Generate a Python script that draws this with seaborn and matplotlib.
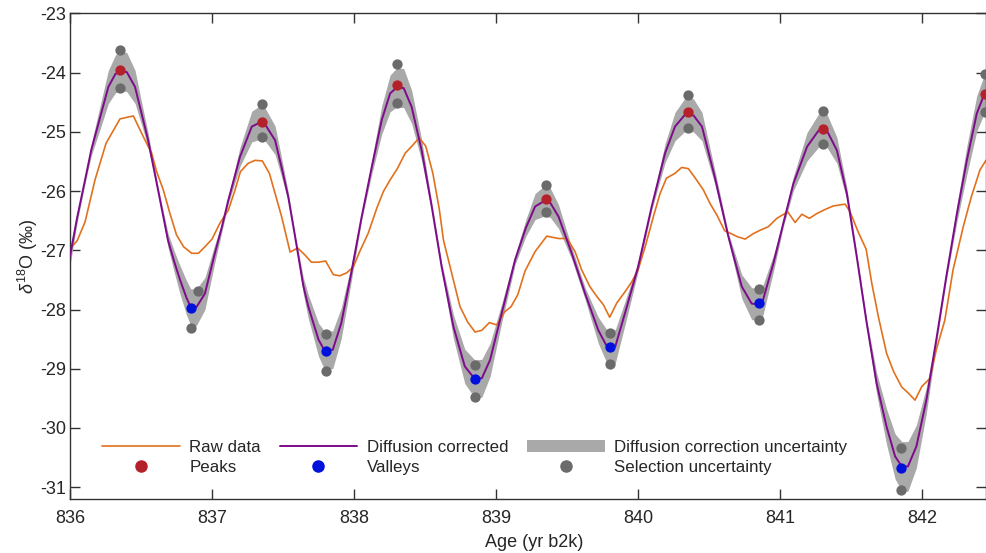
import matplotlib
matplotlib.use("Agg")
import matplotlib.pyplot as plt
import seaborn as sns
import pandas as pd
from matplotlib.lines import Line2D
from matplotlib.patches import Patch

# raw isotope record
raw_age = [836.000, 836.050, 836.106, 836.176, 836.254, 836.352, 836.446, 836.516, 836.575, 836.610,
           836.657, 836.704, 836.750, 836.800, 836.857, 836.904, 836.950, 837.000, 837.056, 837.115,
           837.162, 837.200, 837.255, 837.303, 837.354, 837.404, 837.444, 837.490, 837.550, 837.603,
           837.655, 837.700, 837.750, 837.800, 837.854, 837.900, 837.948, 837.995, 838.040, 838.100,
           838.160, 838.206, 838.254, 838.305, 838.360, 838.415, 838.458, 838.505, 838.555, 838.600,
           838.630, 838.688, 838.746, 838.800, 838.852, 838.900, 838.953, 839.005, 839.060, 839.106,
           839.153, 839.204, 839.275, 839.357, 839.440, 839.500, 839.556, 839.603, 839.660, 839.710,
           839.756, 839.800, 839.850, 839.908, 839.956, 840.000, 840.050, 840.108, 840.155, 840.200,
           840.260, 840.307, 840.354, 840.400, 840.460, 840.507, 840.554, 840.610, 840.648, 840.700,
           840.754, 840.810, 840.860, 840.918, 840.977, 841.054, 841.106, 841.153, 841.206, 841.258,
           841.317, 841.375, 841.458, 841.493, 841.550, 841.606, 841.646, 841.692, 841.750, 841.800,
           841.857, 841.903, 841.950, 841.998, 842.056, 842.100, 842.160, 842.218, 842.290, 842.346,
           842.408, 842.450]
raw_d18o = [-26.97, -26.84, -26.52, -25.81, -25.19, -24.78, -24.73, -25.08, -25.36, -25.67,
            -25.98, -26.38, -26.74, -26.94, -27.05, -27.05, -26.94, -26.81, -26.54, -26.32,
            -25.98, -25.67, -25.53, -25.48, -25.49, -25.70, -26.04, -26.43, -27.03, -26.96,
            -27.08, -27.20, -27.20, -27.18, -27.41, -27.43, -27.38, -27.28, -27.02, -26.71,
            -26.29, -26.01, -25.81, -25.62, -25.36, -25.22, -25.10, -25.24, -25.70, -26.30,
            -26.83, -27.39, -27.95, -28.21, -28.38, -28.35, -28.22, -28.26, -28.04, -27.95,
            -27.75, -27.35, -27.02, -26.76, -26.80, -26.80, -27.02, -27.33, -27.61, -27.78,
            -27.92, -28.13, -27.89, -27.70, -27.53, -27.33, -26.94, -26.43, -26.04, -25.78,
            -25.70, -25.60, -25.62, -25.77, -25.98, -26.21, -26.40, -26.67, -26.71, -26.77,
            -26.81, -26.72, -26.66, -26.60, -26.46, -26.35, -26.53, -26.39, -26.46, -26.38,
            -26.31, -26.25, -26.22, -26.35, -26.69, -26.98, -27.56, -28.12, -28.74, -29.05,
            -29.31, -29.41, -29.53, -29.30, -29.16, -28.68, -28.18, -27.33, -26.60, -26.10,
            -25.64, -25.48]

# diffusion corrected record and half-width of its uncertainty band
dc_age = [836.000, 836.050, 836.106, 836.150, 836.200, 836.270, 836.320, 836.360, 836.400, 836.458,
          836.500, 836.550, 836.620, 836.690, 836.735, 836.775, 836.820, 836.850, 836.890, 836.950,
          837.020, 837.070, 837.115, 837.197, 837.280, 837.330, 837.370, 837.444, 837.490, 837.537,
          837.585, 837.643, 837.678, 837.750, 837.790, 837.850, 837.910, 837.980, 838.054, 838.125,
          838.195, 838.254, 838.300, 838.350, 838.406, 838.476, 838.547, 838.617, 838.700, 838.780,
          838.850, 838.900, 838.958, 839.040, 839.134, 839.210, 839.275, 839.330, 839.380, 839.440,
          839.533, 839.627, 839.720, 839.780, 839.840, 839.908, 840.000, 840.096, 840.190, 840.260,
          840.330, 840.390, 840.450, 840.540, 840.636, 840.730, 840.800, 840.870, 840.953, 841.023,
          841.094, 841.190, 841.270, 841.330, 841.400, 841.470, 841.540, 841.610, 841.680, 841.750,
          841.810, 841.857, 841.900, 841.960, 842.030, 842.100, 842.170, 842.245, 842.315, 842.385,
          842.430, 842.470]
dc_d18o = [-27.10, -26.45, -25.81, -25.30, -24.86, -24.24, -24.02, -23.97, -23.99, -24.24,
           -24.65, -25.14, -25.98, -26.83, -27.20, -27.50, -27.80, -27.96, -27.96, -27.73,
           -27.05, -26.60, -26.15, -25.42, -24.91, -24.85, -24.86, -25.14, -25.60, -26.10,
           -26.77, -27.60, -27.95, -28.51, -28.68, -28.68, -28.23, -27.39, -26.43, -25.59,
           -24.80, -24.35, -24.25, -24.26, -24.58, -25.31, -26.26, -27.28, -28.29, -28.96,
           -29.17, -29.16, -28.85, -28.06, -27.16, -26.62, -26.26, -26.18, -26.19, -26.43,
           -27.05, -27.73, -28.35, -28.62, -28.62, -28.06, -27.28, -26.26, -25.36, -24.91,
           -24.71, -24.72, -24.91, -25.76, -26.77, -27.61, -27.90, -27.92, -27.22, -26.54,
           -25.87, -25.25, -24.98, -24.98, -25.31, -26.04, -27.11, -28.23, -29.25, -29.98,
           -30.48, -30.65, -30.65, -30.31, -29.53, -28.51, -27.45, -26.38, -25.48, -24.69,
           -24.41, -24.38]
dc_unc = [0.15, 0.08, 0.06, 0.10, 0.18, 0.28, 0.32, 0.33, 0.33, 0.28,
          0.20, 0.12, 0.05, 0.12, 0.18, 0.24, 0.29, 0.31, 0.31, 0.27,
          0.15, 0.08, 0.06, 0.16, 0.26, 0.28, 0.28, 0.24, 0.16, 0.08,
          0.05, 0.14, 0.20, 0.28, 0.32, 0.32, 0.26, 0.14, 0.05, 0.12,
          0.24, 0.31, 0.33, 0.33, 0.28, 0.18, 0.07, 0.07, 0.20, 0.29,
          0.32, 0.32, 0.28, 0.16, 0.08, 0.14, 0.22, 0.25, 0.25, 0.20,
          0.10, 0.10, 0.22, 0.28, 0.28, 0.20, 0.08, 0.06, 0.16, 0.24,
          0.28, 0.28, 0.24, 0.12, 0.06, 0.20, 0.27, 0.27, 0.14, 0.06,
          0.12, 0.24, 0.28, 0.28, 0.22, 0.10, 0.06, 0.06, 0.18, 0.30,
          0.38, 0.42, 0.42, 0.36, 0.22, 0.08, 0.06, 0.14, 0.24, 0.30,
          0.32, 0.32]

peak_age = [836.355, 837.355, 838.305, 839.355, 840.350, 841.305, 842.440]
peak_d18o = [-23.95, -24.83, -24.21, -26.14, -24.67, -24.95, -24.36]

valley_age = [836.852, 837.803, 838.854, 839.800, 840.852, 841.852]
valley_d18o = [-27.98, -28.70, -29.18, -28.64, -27.89, -30.67]

sel_age = [836.355, 836.355, 837.355, 837.355, 838.305, 838.305, 839.355, 839.355,
           840.350, 840.350, 841.305, 841.305, 842.440, 842.440,
           836.904, 836.852, 837.803, 837.803, 838.854, 838.854, 839.800, 839.800,
           840.852, 840.852, 841.852, 841.852]
sel_d18o = [-23.61, -24.25, -24.53, -25.09, -23.86, -24.52, -25.89, -26.35,
            -24.38, -24.93, -24.64, -25.21, -24.03, -24.66,
            -27.69, -28.31, -28.41, -29.03, -28.93, -29.48, -28.40, -28.92,
            -27.65, -28.17, -30.33, -31.05]

ORANGE = "#E2711D"
PURPLE = "#7E0A8C"
BAND = "#A9A9A9"
DOT_GRAY = "#6B6B6B"
RED = "#B5212A"
BLUE = "#0010DD"

sns.set_style("ticks")
plt.rcParams["font.family"] = ["Liberation Sans", "DejaVu Sans"]
plt.rcParams["mathtext.fontset"] = "custom"
plt.rcParams["mathtext.it"] = "Liberation Sans:italic"
plt.rcParams["mathtext.rm"] = "Liberation Sans"
plt.rcParams["font.size"] = 13

raw = pd.DataFrame({"age": raw_age, "d18o": raw_d18o})
dc = pd.DataFrame({"age": dc_age, "d18o": dc_d18o, "unc": dc_unc})

fig = plt.figure(figsize=(9.86, 5.53), dpi=100)
ax = fig.add_axes([0.071, 0.0976, 0.929, 0.878])

ax.fill_between(dc["age"], dc["d18o"] - dc["unc"], dc["d18o"] + dc["unc"],
                color=BAND, lw=0, zorder=1)
sns.lineplot(data=raw, x="age", y="d18o", ax=ax, color=ORANGE, lw=1.2,
             estimator=None, sort=False, zorder=2)
sns.lineplot(data=dc, x="age", y="d18o", ax=ax, color=PURPLE, lw=1.4,
             estimator=None, sort=False, zorder=3)
sns.scatterplot(x=sel_age, y=sel_d18o, ax=ax, color=DOT_GRAY, s=55,
                linewidth=0, zorder=4)
sns.scatterplot(x=peak_age, y=peak_d18o, ax=ax, color=RED, s=55,
                linewidth=0, zorder=5)
sns.scatterplot(x=valley_age, y=valley_d18o, ax=ax, color=BLUE, s=55,
                linewidth=0, zorder=5)

ax.set_xlim(836, 842.45)
ax.set_ylim(-31.2, -23)
ax.set_xticks(range(836, 843))
ax.set_yticks(range(-31, -22))
ax.set_yticklabels([str(v) for v in range(-31, -22)])
ax.tick_params(direction="in", length=7, width=1.0, color="#333333",
               top=True, right=True, labelsize=13)
ax.tick_params(axis="x", pad=8)
ax.tick_params(axis="y", pad=3)
for sp in ax.spines.values():
    sp.set_visible(True)
    sp.set_color("#333333")
    sp.set_linewidth(1.0)

ax.set_xlabel("Age (yr b2k)", fontsize=13, labelpad=4)
ax.xaxis.set_label_coords(0.507, -0.072)
ax.set_ylabel(r"$\delta^{18}$O (‰)", fontsize=13, labelpad=0)

handles = [
    Line2D([], [], color=ORANGE, lw=1.2),
    Line2D([], [], marker="o", ls="none", color=RED, markersize=8),
    Line2D([], [], color=PURPLE, lw=1.4),
    Line2D([], [], marker="o", ls="none", color=BLUE, markersize=8),
    Patch(facecolor=BAND, edgecolor="none"),
    Line2D([], [], marker="o", ls="none", color=DOT_GRAY, markersize=8),
]
labels = ["Raw data", "Peaks", "Diffusion corrected", "Valleys",
          "Diffusion correction uncertainty", "Selection uncertainty"]
fig.legend(handles, labels, ncol=3, frameon=False, loc="upper left",
           bbox_to_anchor=(102 / 986, 1 - 440 / 553), borderpad=0,
           borderaxespad=0, handlelength=4.6, handletextpad=0.55,
           columnspacing=1.1, labelspacing=0.3, fontsize=12.2)

fig.savefig("out.png", dpi=100)
